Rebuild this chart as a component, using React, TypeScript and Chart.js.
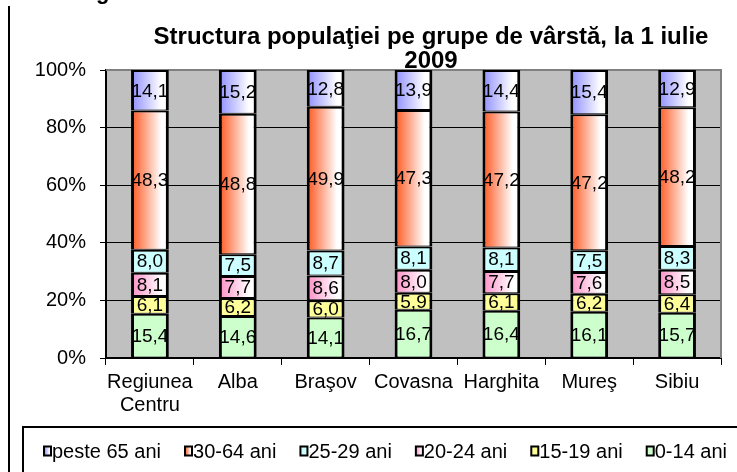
import React, { useEffect, useRef } from "react";
import { Chart, registerables } from "chart.js";

Chart.register(...registerables);

// ---------- data ----------
const categories: (string | string[])[] = [
  ["Regiunea", "Centru"],
  "Alba",
  "Braşov",
  "Covasna",
  "Harghita",
  "Mureş",
  "Sibiu",
];

const age0to14 = [15.4, 14.6, 14.1, 16.7, 16.4, 16.1, 15.7];
const age15to19 = [6.1, 6.2, 6.0, 5.9, 6.1, 6.2, 6.4];
const age20to24 = [8.1, 7.7, 8.6, 8.0, 7.7, 7.6, 8.5];
const age25to29 = [8.0, 7.5, 8.7, 8.1, 8.1, 7.5, 8.3];
const age30to64 = [48.3, 48.8, 49.9, 47.3, 47.2, 47.2, 48.2];
const age65plus = [14.1, 15.2, 12.8, 13.9, 14.4, 15.4, 12.9];

const seriesLabels = ["0-14 ani", "15-19 ani", "20-24 ani", "25-29 ani", "30-64 ani", "peste 65 ani"];
const yTicks = [0, 20, 40, 60, 80, 100];

const titleLines = ["Structura populaţiei pe grupe de vârstă, la 1 iulie", "2009"];

// ---------- styling ----------
const FONT = "'Liberation Sans', Arial, sans-serif";
const BAR_PCT = 0.43;
const seriesColors = ["#CCFFCC", "#FFFF99", "#FF99CC", "#CCFFFF", "#FF6633", "#9999FF"];
const seriesGradient = [false, false, true, false, true, true];

function makeGradient(c: CanvasRenderingContext2D, x0: number, x1: number, color: string) {
  const g = c.createLinearGradient(x0, 0, x1, 0);
  g.addColorStop(0, color);
  g.addColorStop(0.08, color);
  g.addColorStop(0.8, "#FFFFFF");
  g.addColorStop(1, "#FFFFFF");
  return g;
}

function barFill(color: string, grad: boolean) {
  return (ctx: any) => {
    if (!grad) return color;
    const chart = ctx.chart;
    const xs = chart.scales && chart.scales.x;
    if (!xs || ctx.dataIndex === undefined || !chart.chartArea) return color;
    const cx = xs.getPixelForValue(ctx.dataIndex);
    const bw = (xs.width / categories.length) * BAR_PCT;
    return makeGradient(chart.ctx, cx - bw / 2, cx + bw / 2, color);
  };
}

const rawSeries = [age0to14, age15to19, age20to24, age25to29, age30to64, age65plus];
const totals = categories.map((_, i) => rawSeries.reduce((s, arr) => s + arr[i], 0));

const datasets = rawSeries.map((arr, k) => ({
  label: seriesLabels[k],
  data: arr.map((v, i) => (v / totals[i]) * 100),
  raw: arr,
  backgroundColor: barFill(seriesColors[k], seriesGradient[k]),
  borderColor: "#000000",
  borderWidth: { left: 3, right: 3, top: 2, bottom: 1 },
  borderSkipped: false as const,
  categoryPercentage: 1,
  barPercentage: BAR_PCT,
}));

// ---------- plugins ----------
const decorPlugin = {
  id: "decor",
  beforeDraw(chart: any) {
    const c = chart.ctx as CanvasRenderingContext2D;
    const a = chart.chartArea;
    c.save();
    c.fillStyle = "#FFFFFF";
    c.fillRect(0, 0, chart.width, chart.height);
    c.fillStyle = "#C0C0C0";
    c.fillRect(a.left, a.top, a.right - a.left, a.bottom - a.top);
    c.restore();
  },
  beforeDatasetsDraw(chart: any) {
    const c = chart.ctx as CanvasRenderingContext2D;
    const a = chart.chartArea;
    c.save();
    c.strokeStyle = "#808080";
    c.lineWidth = 2;
    c.beginPath();
    c.moveTo(a.left, a.top);
    c.lineTo(a.right, a.top);
    c.lineTo(a.right, a.bottom);
    c.stroke();
    c.restore();
  },
  afterDatasetsDraw(chart: any) {
    const c = chart.ctx as CanvasRenderingContext2D;
    c.save();
    c.fillStyle = "#000000";
    c.font = `19px ${FONT}`;
    c.textAlign = "center";
    c.textBaseline = "middle";
    chart.data.datasets.forEach((ds: any, di: number) => {
      const meta = chart.getDatasetMeta(di);
      meta.data.forEach((el: any, i: number) => {
        const v = ds.raw[i];
        const txt = v.toFixed(1).replace(".", ",");
        c.fillText(txt, el.x, (el.y + el.base) / 2 + 1);
      });
    });
    c.restore();
  },
  afterDraw(chart: any) {
    const c = chart.ctx as CanvasRenderingContext2D;
    c.save();
    // page margin line
    c.strokeStyle = "#000";
    c.lineWidth = 2;
    c.beginPath();
    c.moveTo(9, 6);
    c.lineTo(9, chart.height);
    c.stroke();
    // heading fragment above
    c.fillStyle = "#000";
    c.font = `bold 22px ${FONT}`;
    c.textAlign = "left";
    c.textBaseline = "alphabetic";
    c.fillText("g", 96, -1);
    // title
    c.font = `bold 24px ${FONT}`;
    c.textAlign = "center";
    c.fillText(titleLines[0], 431, 44);
    c.fillText(titleLines[1], 431, 68);
    // legend box
    c.lineWidth = 2;
    c.beginPath();
    c.moveTo(chart.width, 427);
    c.lineTo(23, 427);
    c.lineTo(23, chart.height);
    c.stroke();
    // legend items (reversed order)
    c.font = `20px ${FONT}`;
    c.textAlign = "left";
    c.textBaseline = "middle";
    const order = chart.data.datasets.map((_: any, i: number) => i).reverse();
    const mW = 7, mH = 9, tGap = 1;
    const widths = order.map((i: number) => c.measureText(chart.data.datasets[i].label).width);
    const startX = 44, endX = 727;
    const total = widths.reduce((s: number, w: number) => s + w + mW + tGap, 0);
    const gap = (endX - startX - total) / (order.length - 1);
    let x = startX;
    const y = 451;
    order.forEach((di: number, k: number) => {
      const color = seriesColors[di];
      c.fillStyle = seriesGradient[di] ? makeGradient(c, x, x + mW, color) : color;
      c.fillRect(x, y - mH / 2, mW, mH);
      c.strokeStyle = "#000";
      c.lineWidth = 2;
      c.strokeRect(x, y - mH / 2, mW, mH);
      c.fillStyle = "#000";
      c.fillText(chart.data.datasets[di].label, x + mW + tGap, y + 1);
      x += mW + tGap + widths[k] + gap;
    });
    c.restore();
  },
};

export default function App() {
  const ref = useRef<HTMLCanvasElement>(null);
  useEffect(() => {
    const chart = new Chart(ref.current!, {
      type: "bar",
      data: { labels: categories as any, datasets: datasets as any },
      options: {
        responsive: false,
        devicePixelRatio: 1,
        animation: false,
        layout: { padding: { top: 70, right: 16, left: 0, bottom: 0 } },
        plugins: {
          legend: { display: false },
          title: { display: false },
          tooltip: { enabled: false },
        },
        scales: {
          x: {
            stacked: true,
            grid: { offset: true, drawOnChartArea: false, color: "#000", tickLength: 7 },
            border: { color: "#000", width: 2 },
            ticks: {
              color: "#000",
              font: { family: FONT, size: 20, lineHeight: 1.15 },
              padding: 6,
              maxRotation: 0,
              autoSkip: false,
            },
            afterFit: (s: any) => {
              s.height = 114;
            },
          },
          y: {
            stacked: true,
            min: 0,
            max: 100,
            afterBuildTicks: (s: any) => {
              s.ticks = yTicks.map((v) => ({ value: v }));
            },
            grid: {
              color: (ctx: any) => (ctx.tick && ctx.tick.value === 100 ? "#808080" : "#000"),
              tickColor: "#000",
              tickLength: 6,
            },
            border: { color: "#000", width: 2 },
            ticks: {
              color: "#000",
              font: { family: FONT, size: 20 },
              padding: 14,
              callback: (v: any) => `${v}%`,
            },
            afterFit: (s: any) => {
              s.width = 106;
            },
          },
        },
      },
      plugins: [decorPlugin],
    });
    return () => chart.destroy();
  }, []);
  return (
    <div style={{ position: "absolute", left: 0, top: 0, width: 737, height: 472, background: "#fff" }}>
      <canvas ref={ref} width={737} height={472} style={{ display: "block", width: 737, height: 472 }} />
    </div>
  );
}
